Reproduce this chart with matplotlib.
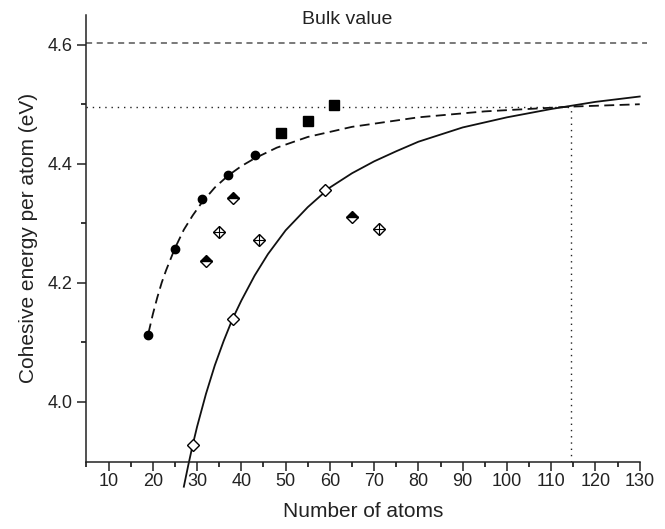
import numpy as np
import matplotlib
matplotlib.use('Agg')
from matplotlib import pyplot as plt

plt.rcParams['font.family'] = ['Liberation Sans', 'DejaVu Sans']

# measured points
circ_n = [19, 25, 31, 37, 43]
circ_e = [4.112, 4.257, 4.340, 4.381, 4.414]
sq_n = [49, 55, 61]
sq_e = [4.452, 4.471, 4.499]
half_n = [32, 38, 65]
half_e = [4.236, 4.343, 4.310]
cross_n = [35, 44, 71]
cross_e = [4.286, 4.272, 4.290]
open_n = [29, 38, 59]
open_e = [3.927, 4.139, 4.355]

# fitted curves
dash_n = [19, 20, 21, 22, 23, 25, 27, 29, 31, 34, 37, 40, 43, 48, 55, 65, 80, 95, 114.5, 130]
dash_e = [4.115, 4.147, 4.175, 4.200, 4.221, 4.258, 4.289, 4.313, 4.334, 4.360, 4.380,
          4.396, 4.409, 4.427, 4.445, 4.462, 4.478, 4.488, 4.496, 4.500]
fit_n = [27, 28, 29, 30, 32, 34, 36, 38, 40, 43, 46, 50, 55, 60, 65, 70, 75, 80, 90,
         100, 110, 120, 130]
fit_e = [3.857, 3.893, 3.927, 3.958, 4.013, 4.061, 4.102, 4.139, 4.170, 4.212, 4.248,
         4.288, 4.327, 4.360, 4.384, 4.404, 4.421, 4.437, 4.461, 4.478, 4.492, 4.504, 4.513]

bulk = 4.603
cross_pt = (114.5, 4.496)

fig = plt.figure(figsize=(6.65, 5.29), dpi=100)
ax = fig.add_axes([0.130, 0.1272, 0.832, 0.8444])

ax.axhline(bulk, xmin=0, xmax=1.013, color='#555555', lw=1.1, dashes=(4, 3), clip_on=False)
ax.text(63.8, 4.643, 'Bulk value', ha='center', va='center', fontsize=14, color='#222222')
ax.plot([5, cross_pt[0]], [cross_pt[1]] * 2, color='#222222', lw=1.0, dashes=(1, 3.5))
ax.plot([cross_pt[0]] * 2, [3.899, cross_pt[1]], color='#222222', lw=1.0, dashes=(1, 3.5))

ax.plot(dash_n, dash_e, color='#111111', lw=1.3, dashes=(5.5, 3))
ax.plot(fit_n, fit_e, color='#111111', lw=1.3, clip_on=False)

ax.plot(circ_n, circ_e, 'o', ms=6, color='black', ls='none')
ax.plot(sq_n, sq_e, 's', ms=6.5, color='black', ls='none')
ax.plot(half_n, half_e, 'D', ms=6.5, mfc='black', mfcalt='white', fillstyle='top',
        mec='black', mew=1, ls='none')
ax.plot(cross_n, cross_e, 'D', ms=6.5, mfc='white', mec='black', mew=1, ls='none')
ax.plot(cross_n, cross_e, '+', ms=8.5, mec='black', mew=0.8, ls='none')
ax.plot(open_n, open_e, 'D', ms=6.5, mfc='white', mec='black', mew=1, ls='none',
        clip_on=False, zorder=5)

ax.set_xlim(5, 130)
ax.set_ylim(3.899, 4.65)
ax.set_xticks(np.arange(10, 131, 10))
ax.set_xticks(np.arange(5, 131, 5), minor=True)
ax.set_yticks([4.0, 4.2, 4.4, 4.6])
ax.set_yticks([4.1, 4.3, 4.5], minor=True)
ax.yaxis.set_major_formatter(matplotlib.ticker.FormatStrFormatter('%.1f'))
ax.tick_params(which='major', direction='out', length=6.5, width=1.1, labelsize=13,
               colors='#222222')
ax.tick_params(axis='x', which='major', pad=1.5)
ax.tick_params(which='minor', direction='out', length=3.5, width=1.1)
for s in ['top', 'right']:
    ax.spines[s].set_visible(False)
for s in ['left', 'bottom']:
    ax.spines[s].set_linewidth(1.1)
    ax.spines[s].set_color('#222222')

ax.set_xlabel('Number of atoms', fontsize=15, color='#222222', labelpad=9)
ax.set_ylabel('Cohesive energy per atom (eV)', fontsize=15, color='#222222', labelpad=7)

fig.savefig('out.png', dpi=100)
